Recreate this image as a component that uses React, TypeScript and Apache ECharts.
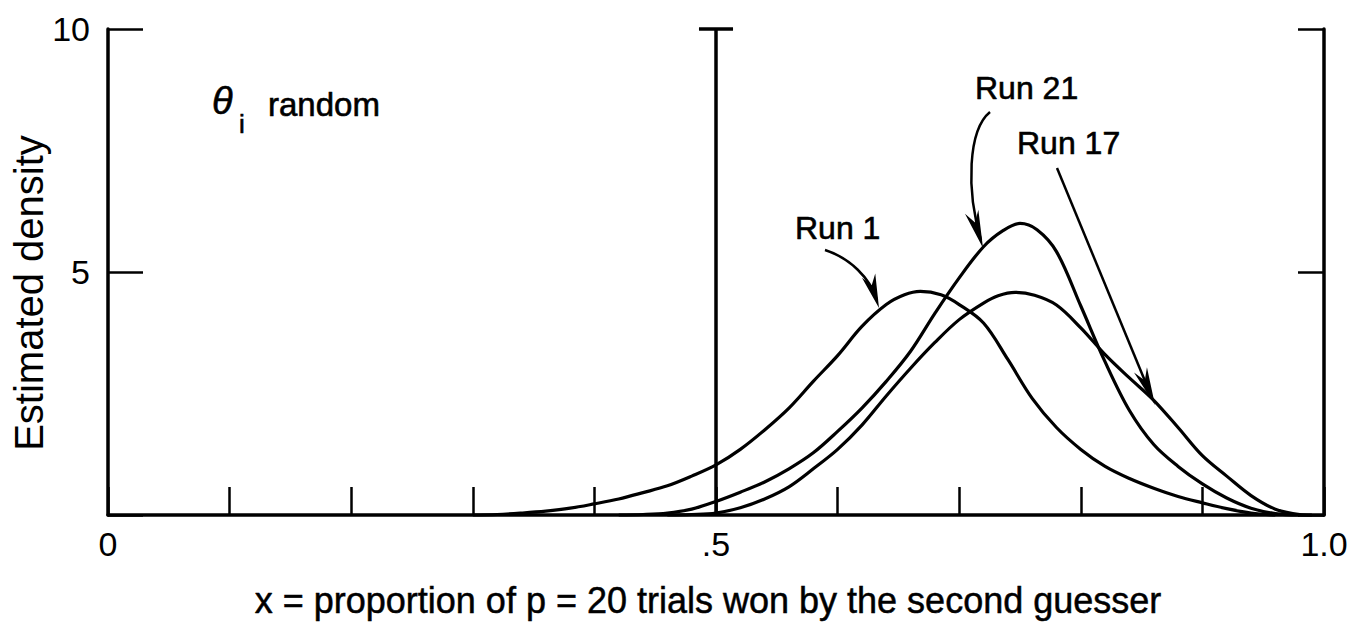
import React, { useEffect, useRef } from "react";
import * as echarts from "echarts";

// ---- data (density estimates) ----
const run1X = [0.3, 0.32, 0.34, 0.36, 0.38, 0.4, 0.42, 0.44, 0.46, 0.48, 0.5, 0.52, 0.54, 0.56, 0.58, 0.6, 0.62, 0.64, 0.655, 0.668, 0.685, 0.7, 0.72, 0.74, 0.76, 0.78, 0.8, 0.82, 0.84, 0.86, 0.88, 0.9, 0.92, 0.94, 0.96];
const run1Y = [0, 0.01, 0.04, 0.08, 0.14, 0.23, 0.33, 0.46, 0.6, 0.8, 1.03, 1.35, 1.75, 2.2, 2.75, 3.28, 3.88, 4.33, 4.53, 4.6, 4.53, 4.33, 3.95, 3.2, 2.4, 1.8, 1.35, 1.0, 0.75, 0.55, 0.38, 0.25, 0.13, 0.04, 0];

const run21X = [0.42, 0.44, 0.46, 0.48, 0.5, 0.52, 0.54, 0.56, 0.58, 0.6, 0.62, 0.64, 0.66, 0.68, 0.7, 0.72, 0.736, 0.75, 0.764, 0.78, 0.8, 0.82, 0.84, 0.86, 0.88, 0.9, 0.92, 0.94, 0.96, 0.98];
const run21Y = [0, 0.01, 0.04, 0.12, 0.28, 0.47, 0.68, 0.95, 1.28, 1.72, 2.2, 2.75, 3.37, 4.15, 4.88, 5.52, 5.85, 6.0, 5.87, 5.42, 4.3, 3.15, 2.15, 1.45, 1.0, 0.64, 0.35, 0.14, 0.03, 0];

const run17X = [0.46, 0.48, 0.5, 0.52, 0.54, 0.56, 0.58, 0.6, 0.62, 0.64, 0.66, 0.68, 0.7, 0.72, 0.732, 0.746, 0.762, 0.78, 0.8, 0.82, 0.84, 0.86, 0.88, 0.9, 0.92, 0.94, 0.96, 0.98, 0.99];
const run17Y = [0, 0.01, 0.04, 0.15, 0.33, 0.58, 0.95, 1.35, 1.85, 2.45, 3.02, 3.55, 4.02, 4.36, 4.51, 4.58, 4.52, 4.32, 3.85, 3.3, 2.82, 2.36, 1.8, 1.22, 0.8, 0.4, 0.12, 0.01, 0];

const xTickLabels: Record<string, string> = { "0": "0", "0.5": ".5", "1": "1.0" };
const yTickLabels: Record<string, string> = { "5": "5", "10": "10" };

const REF_X = 0.5;
const Y_MAX = 10;
const X_MAX = 1;

const FONT = "Liberation Sans";

function zip(xs: number[], ys: number[]) {
  return xs.map((x, i) => [x, ys[i]]);
}

function arrowHead(tipX: number, tipY: number, fromX: number, fromY: number, len: number, halfW: number) {
  const dx = tipX - fromX;
  const dy = tipY - fromY;
  const d = Math.hypot(dx, dy) || 1;
  const ux = dx / d;
  const uy = dy / d;
  const bx = tipX - ux * len;
  const by = tipY - uy * len;
  const px = -uy;
  const py = ux;
  return {
    type: "polygon",
    shape: {
      points: [
        [tipX, tipY],
        [bx + px * halfW, by + py * halfW],
        [tipX - ux * len * 0.7, tipY - uy * len * 0.7],
        [bx - px * halfW, by - py * halfW],
      ],
    },
    style: { fill: "#000" },
    z: 10,
  };
}

function txt(text: string, x: number, y: number, size: number, extra: any = {}) {
  return {
    type: "text",
    x,
    y,
    z: 10,
    style: {
      text,
      fontFamily: FONT,
      fontSize: size,
      fill: "#000",
      stroke: "#000",
      lineWidth: 0.6,
      align: "left",
      verticalAlign: "middle",
      textAlign: "left",
      textVerticalAlign: "middle",
      ...extra,
    },
  };
}

export default function App() {
  const ref = useRef<HTMLDivElement>(null);

  useEffect(() => {
    document.body.style.margin = "0";
    if (!ref.current) return;
    const chart = echarts.init(ref.current, null, { renderer: "svg" });

    const curveStyle = { color: "#000", width: 3.2 };
    const lineSeries = (name: string, data: number[][]) => ({
      name,
      type: "line",
      data,
      smooth: 0.35,
      showSymbol: false,
      symbol: "none",
      lineStyle: curveStyle,
      clip: false,
      silent: true,
      z: 3,
    });

    const tHalf = 0.014;

    const option: any = {
      animation: false,
      backgroundColor: "#fff",
      grid: { left: 108, right: 32, top: 29, bottom: 108, containLabel: false },
      xAxis: {
        type: "value",
        min: 0,
        max: X_MAX,
        interval: 0.1,
        axisLine: { show: true, onZero: false, lineStyle: { color: "#000", width: 3.5 } },
        axisTick: { show: true, inside: true, length: 28, lineStyle: { color: "#000", width: 2.5 } },
        splitLine: { show: false },
        axisLabel: {
          show: true,
          margin: 12,
          fontFamily: FONT,
          fontSize: 34,
          color: "#000",
          formatter: (v: number) => xTickLabels[String(Math.round(v * 10) / 10)] ?? "",
        },
      },
      yAxis: [
        {
          type: "value",
          min: 0,
          max: Y_MAX,
          interval: 5,
          position: "left",
          axisLine: { show: true, onZero: false, lineStyle: { color: "#000", width: 3.5 } },
          axisTick: { show: true, inside: true, length: 35, lineStyle: { color: "#000", width: 2.5 } },
          splitLine: { show: false },
          axisLabel: {
            show: true,
            margin: 18,
            fontFamily: FONT,
            fontSize: 34,
            color: "#000",
            formatter: (v: number) => yTickLabels[String(v)] ?? "",
          },
        },
        {
          type: "value",
          min: 0,
          max: Y_MAX,
          interval: 5,
          position: "right",
          axisLine: { show: true, onZero: false, lineStyle: { color: "#000", width: 3.5 } },
          axisTick: { show: true, inside: true, length: 26, lineStyle: { color: "#000", width: 2.5 } },
          splitLine: { show: false },
          axisLabel: { show: false },
        },
      ],
      series: [
        {
          name: "ref",
          type: "line",
          data: [[REF_X, 0], [REF_X, Y_MAX]],
          showSymbol: false,
          symbol: "none",
          lineStyle: { color: "#000", width: 3.5 },
          clip: false,
          silent: true,
          z: 4,
        },
        {
          name: "refTop",
          type: "line",
          data: [[REF_X - tHalf, Y_MAX], [REF_X + tHalf, Y_MAX]],
          showSymbol: false,
          symbol: "none",
          lineStyle: { color: "#000", width: 3.5 },
          clip: false,
          silent: true,
          z: 4,
        },
        lineSeries("Run 1", zip(run1X, run1Y)),
        lineSeries("Run 21", zip(run21X, run21Y)),
        lineSeries("Run 17", zip(run17X, run17Y)),
      ],
      graphic: [
        // theta_i random
        txt("θ", 212, 101, 38, { fontStyle: "italic" }),
        txt("i", 239, 124, 26),
        txt("random", 268, 104, 33),
        // run labels
        txt("Run 1", 795, 228, 32),
        txt("Run 21", 975, 88, 32),
        txt("Run 17", 1017, 143, 32),
        // Run 1 arrow
        {
          type: "bezierCurve",
          shape: { x1: 825, y1: 250, cpx1: 850, cpy1: 258, cpx2: 870, cpy2: 278, x2: 877, y2: 300 },
          style: { stroke: "#000", lineWidth: 2.5, fill: null },
          z: 10,
        },
        arrowHead(879, 308, 870, 280, 34, 7),
        // Run 21 arrow
        {
          type: "bezierCurve",
          shape: { x1: 990, y1: 112, cpx1: 968, cpy1: 130, cpx2: 966, cpy2: 190, x2: 981, y2: 240 },
          style: { stroke: "#000", lineWidth: 2.5, fill: null },
          z: 10,
        },
        arrowHead(983, 248, 968, 200, 38, 7),
        // Run 17 arrow
        {
          type: "line",
          shape: { x1: 1057, y1: 168, x2: 1152, y2: 398 },
          style: { stroke: "#000", lineWidth: 2.5 },
          z: 10,
        },
        arrowHead(1155, 405, 1057, 168, 38, 7),
        // axis titles
        {
          type: "text",
          x: 708,
          y: 600,
          z: 10,
          style: {
            text: "x = proportion of p = 20 trials won by the second guesser",
            fontFamily: FONT,
            fontSize: 36,
            fill: "#000",
            stroke: "#000",
            lineWidth: 0.5,
            align: "center",
            verticalAlign: "middle",
            textAlign: "center",
            textVerticalAlign: "middle",
          },
        },
        {
          type: "text",
          x: 29,
          y: 293,
          rotation: Math.PI / 2,
          z: 10,
          style: {
            text: "Estimated density",
            fontFamily: FONT,
            fontSize: 40,
            fill: "#000",
            align: "center",
            verticalAlign: "middle",
            textAlign: "center",
            textVerticalAlign: "middle",
          },
        },
      ],
    };

    chart.setOption(option);
    return () => chart.dispose();
  }, []);

  return <div ref={ref} style={{ width: 1356, height: 623 }} />;
}
